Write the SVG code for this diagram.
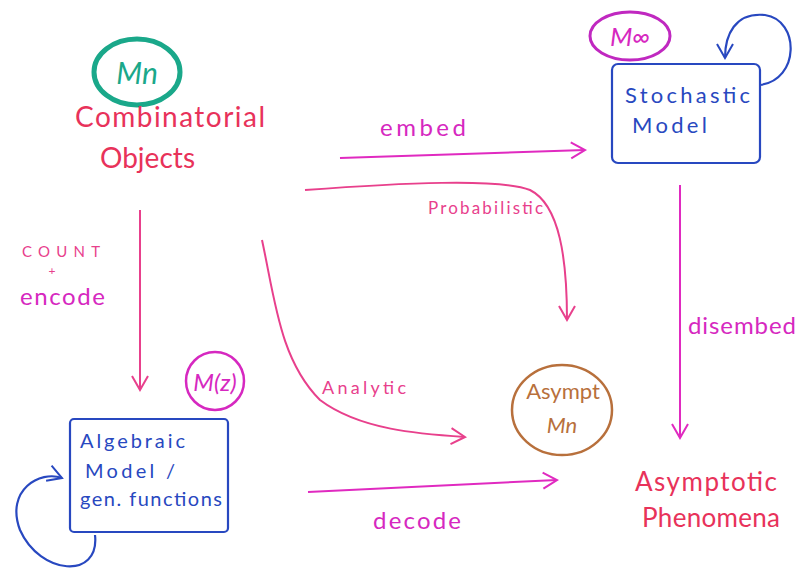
<svg xmlns="http://www.w3.org/2000/svg" width="799" height="575" viewBox="0 0 799 575">
<defs>
<marker id="ahm" viewBox="0 0 20 20" refX="16" refY="10" markerWidth="20" markerHeight="20" markerUnits="userSpaceOnUse" orient="auto">
<path d="M2,2 L16,10 L2,18" fill="none" stroke="#e02ac0" stroke-width="2"/>
</marker>
<marker id="ahp" viewBox="0 0 20 20" refX="16" refY="10" markerWidth="20" markerHeight="20" markerUnits="userSpaceOnUse" orient="auto">
<path d="M2,2 L16,10 L2,18" fill="none" stroke="#e8408c" stroke-width="2"/>
</marker>
<marker id="ahb" viewBox="0 0 20 20" refX="16" refY="10" markerWidth="20" markerHeight="20" markerUnits="userSpaceOnUse" orient="auto">
<path d="M2,2 L16,10 L2,18" fill="none" stroke="#2848c0" stroke-width="2"/>
</marker>
</defs>
<style>
text{font-family:"Lato","DejaVu Sans",sans-serif;}
.red{fill:#e8325a;}
.mag{fill:#d628c0;}
.pink{fill:#e8408c;}
.blue{fill:#2848c0;}
.teal{fill:#1aa88a;}
.brown{fill:#b8703c;}
.lm{fill:none;stroke:#e02ac0;stroke-width:2;}
.lp{fill:none;stroke:#e8408c;stroke-width:2;}
.lb{fill:none;stroke:#2848c0;stroke-width:2.2;}
</style>
<rect width="799" height="575" fill="#ffffff"/>

<g id="connectors">
<path class="lp" d="M140,210 L140,390" marker-end="url(#ahp)"/>
<path class="lm" d="M340,158 L585,150" marker-end="url(#ahm)"/>
<path class="lp" d="M305,190 C400,183 500,178 530,190 C560,205 567,260 567,320" marker-end="url(#ahp)"/>
<path class="lp" d="M262,240 C275,300 280,360 320,400 C360,430 420,434 465,437" marker-end="url(#ahp)"/>
<path class="lm" d="M308,492 L557,480" marker-end="url(#ahm)"/>
<path class="lm" d="M680,185 L680,438" marker-end="url(#ahm)"/>
<path class="lb" d="M95,535 C100,580 40,575 20,530 C5,490 40,470 62,478" marker-end="url(#ahb)"/>
<path class="lb" d="M760,85 C800,80 800,20 765,15 C735,12 725,35 725,58" marker-end="url(#ahb)"/>
</g>

<g id="node-combinatorial">
<ellipse cx="137" cy="72" rx="43" ry="33" fill="none" stroke="#1aa88a" stroke-width="5"/>
<text class="teal" x="137" y="84" font-size="30" text-anchor="middle" font-style="italic">Mn</text>
<text class="red" x="75" y="127" font-size="28" textLength="190">Combinatorial</text>
<text class="red" x="100" y="168" font-size="28" textLength="95">Objects</text>
</g>

<g id="node-stochastic">
<ellipse cx="630" cy="36" rx="40" ry="24" fill="none" stroke="#c028c0" stroke-width="3"/>
<text class="mag" x="630" y="46" font-size="26" text-anchor="middle" font-style="italic">M∞</text>
<rect x="612" y="64" width="148" height="99" rx="6" class="lb"/>
<text class="blue" x="625" y="103" font-size="22" textLength="125">Stochastic</text>
<text class="blue" x="632" y="133" font-size="22" textLength="75">Model</text>
</g>

<g id="node-algebraic">
<ellipse cx="215" cy="381" rx="29" ry="29" fill="none" stroke="#d628c0" stroke-width="2.5"/>
<text class="mag" x="215" y="391" font-size="24" text-anchor="middle" font-style="italic">M(z)</text>
<rect x="70" y="419" width="158" height="113" rx="4" class="lb"/>
<text class="blue" x="80" y="448" font-size="20" textLength="105">Algebraic</text>
<text class="blue" x="85" y="478" font-size="20" textLength="90">Model /</text>
<text class="blue" x="80" y="506" font-size="20" textLength="142">gen. functions</text>
</g>

<g id="node-asympt">
<ellipse cx="562" cy="410" rx="50" ry="45" fill="none" stroke="#b8703c" stroke-width="2.5"/>
<text class="brown" x="563" y="399" font-size="22" text-anchor="middle">Asympt</text>
<text class="brown" x="562" y="433" font-size="22" text-anchor="middle" font-style="italic">Mn</text>
</g>

<g id="node-phenomena">
<text class="red" x="635" y="491" font-size="26" textLength="142">Asymptotic</text>
<text class="red" x="642" y="527" font-size="26" textLength="138">Phenomena</text>
</g>

<g id="labels">
<text class="pink" x="22" y="257" font-size="15" textLength="78">COUNT</text>
<text class="pink" x="52" y="275" font-size="12" text-anchor="middle">+</text>
<text class="mag" x="20" y="305" font-size="24" textLength="85">encode</text>
<text class="mag" x="380" y="136" font-size="24" textLength="86">embed</text>
<text class="pink" x="428" y="214" font-size="17" textLength="115">Probabilistic</text>
<text class="pink" x="322" y="394" font-size="18" textLength="84">Analytic</text>
<text class="mag" x="373" y="529" font-size="24" textLength="88">decode</text>
<text class="mag" x="688" y="334" font-size="24" textLength="108">disembed</text>
</g>
</svg>
